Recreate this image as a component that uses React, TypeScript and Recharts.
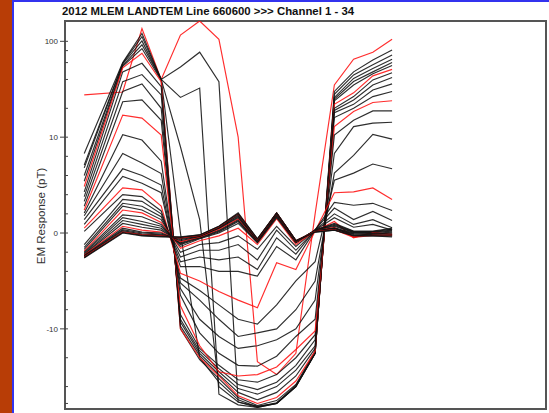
import React from 'react'
import { LineChart, Line, XAxis, YAxis, ReferenceArea } from 'recharts'

// station positions along the line (one gap between 0 and 2)
const stations = [0, 2, 3, 4, 5, 6, 7, 8, 9, 10, 11, 12, 13, 14, 15, 16]

// EM response (pT) for each channel, one value per station
const ch01 = [27.6, 29.6, 136, 40, 116, 163, 105, 10, -22, -30, -18, 2, 35, 65, 77, 105]
const ch02 = [8.3, 60, 121, 40, 54, 77, 38, -58, -64, -60, -40, -18, 30, 48, 64, 81]
const ch03 = [7.1, 59, 112, 40, 26, 32.5, -48, -62, -66, -60, -40, -18, 28, 44.6, 57, 72]
const ch04 = [6.8, 58, 101, 40, 9, 1.4, -40, -58, -66, -60, -40, -18, 26, 41, 52, 65]
const ch05 = [6.0, 56, 92, 40, 0, -20, -36, -55, -65, -59, -39, -18, 25, 38, 48, 60]
const ch06 = [5.4, 55, 84, 39, -10, -21, -33, -52, -63, -56, -38, -17, 24, 35, 46, 56]
const ch07 = [4.85, 53, 75, 38, -10, -20, -31, -50, -60, -52, -35, -17, 22, 29, 43.6, 51]
const ch08 = [4.3, 48, 59, 33.6, -9.7, -19, -30, -46, -55, -46, -31, -16, 20, 26.5, 39.6, 47]
const ch09 = [3.8, 38, 45, 27.6, -9.3, -18, -28, -42, -48, -40, -27, -15, 19, 24.4, 35, 42]
const ch10 = [3.3, 30, 36, 20, -9, -17, -26, -38, -43, -36, -24, -13, 18, 22, 31, 36]
const ch11 = [2.8, 23.4, 24.5, 15, -8.5, -16, -24, -34, -36, -30, -20, -11.5, 16, 20, 26.5, 30]
const ch12 = [2.4, 17, 15.8, 10.5, -7.6, -15, -28, -31, -30, -25, -16.4, -10.5, 12.9, 18.5, 23, 24]
const ch13 = [2.1, 10.6, 9.7, 7.5, -6.5, -11, -18, -24, -24.5, -19.3, -12, -9, 10.5, 15, 18.8, 18.8]
const ch14 = [1.8, 8.3, 7.3, 6.2, -5.8, -9, -12, -16, -15, -13, -10, -7, 8.3, 12.9, 14, 14.3]
const ch15 = [1.4, 6.7, 6.0, 5.0, -5.2, -7, -9, -12, -11, -10, -8, -5, 6.25, 8.1, 10.7, 9.8]
const ch16 = [0.9, 5.9, 5.2, 4.2, -4.7, -6, -7.5, -9, -9.5, -7.5, -5, -3, 5.5, 6.25, 7.2, 6.7]
const ch17 = [0.52, 4.7, 4.5, 2.8, -4.2, -5, -6.1, -7, -7.8, -3.1, -3.8, 0.2, 4.2, 4.3, 4.7, 3.5]
const ch18 = [0.17, 4.0, 3.8, 2.3, -3.5, -3.5, -4, -4, -4.5, -1.4, -2.8, 0.3, 3.2, 2.9, 3.1, 2.35]
const ch19 = [-1.2, 3.5, 3.3, 2.0, -3.0, -2.5, -2.8, -2.5, -3.8, -0.5, -2.2, 0.35, 2.6, 1.4, 2.25, 1.3]
const ch20 = [-1.5, 3.1, 2.8, 1.7, -2.5, -1.8, -1.8, -1.2, -2.8, 0.3, -1.8, 0.3, 2.0, 0.9, 1.4, 0.55]
const ch21 = [-1.7, 2.8, 2.4, 1.4, -2.0, -1.2, -1.0, -0.3, -1.7, 0.7, -1.4, 0.3, 1.6, 0.6, 0.9, 0.3]
const ch22 = [-1.9, 2.4, 2.1, 1.1, -1.6, -0.8, -0.3, 0.5, -1.2, 1.5, -1.2, 0.2, 1.2, -0.5, 0.1, -0.15]
const ch23 = [-2.0, 1.9, 1.7, 0.9, -1.4, -0.6, 0.0, 1.0, -1.0, 1.6, -1.0, 0.3, 1.0, 0.2, 0.2, 0.5]
const ch24 = [-2.1, 1.6, 1.2, 0.7, -1.2, -0.55, 0.1, 1.2, -1.0, 1.7, -1.0, 0.3, 0.9, 0.15, 0.15, 0.4]
const ch25 = [-2.2, 1.3, 0.9, 0.5, -1.1, -0.5, 0.2, 1.3, -0.9, 1.8, -0.95, 0.25, 0.8, 0.1, 0.1, 0.3]
const ch26 = [-2.25, 1.0, 0.6, 0.3, -1.0, -0.45, 0.3, 1.4, -0.9, 1.9, -0.9, 0.25, 0.7, 0.05, 0.05, 0.2]
const ch27 = [-2.3, 0.7, 0.3, 0.1, -0.9, -0.4, 0.4, 1.5, -0.8, 2.0, -0.9, 0.2, 0.6, -0.4, 0.0, -0.1]
const ch28 = [-2.35, 0.5, 0.1, 0.0, -0.8, -0.35, 0.5, 1.6, -0.8, 2.0, -0.85, 0.2, 0.55, 0.0, -0.05, 0.1]
const ch29 = [-2.4, 0.35, 0.0, -0.1, -0.7, -0.3, 0.5, 1.7, -0.75, 2.0, -0.85, 0.2, 0.5, -0.05, -0.1, 0.0]
const ch30 = [-2.45, 0.25, -0.1, -0.2, -0.6, -0.3, 0.6, 1.8, -0.7, 2.1, -0.8, 0.2, 0.45, -0.1, -0.15, -0.1]
const ch31 = [-2.5, 0.15, -0.15, -0.25, -0.55, -0.25, 0.6, 1.9, -0.7, 2.1, -0.8, 0.15, 0.4, -0.15, -0.2, -0.2]
const ch32 = [-2.5, 0.1, -0.2, -0.3, -0.5, -0.25, 0.65, 2.0, -0.65, 2.1, -0.8, 0.15, 0.35, -0.45, -0.25, -0.25]
const ch33 = [-2.55, 0.05, -0.25, -0.35, -0.45, -0.2, 0.7, 2.0, -0.6, 2.1, -0.8, 0.1, 0.3, -0.25, -0.3, -0.3]
const ch34 = [-2.6, 0.0, -0.3, -0.4, -0.4, -0.2, 0.7, 2.1, -0.6, 2.1, -0.8, 0.1, 0.3, -0.3, -0.3, -0.4]

const channels = [
  ch01, ch02, ch03, ch04, ch05, ch06, ch07, ch08, ch09, ch10, ch11, ch12,
  ch13, ch14, ch15, ch16, ch17, ch18, ch19, ch20, ch21, ch22, ch23, ch24,
  ch25, ch26, ch27, ch28, ch29, ch30, ch31, ch32, ch33, ch34,
]
const redChannels = [1, 7, 12, 17, 22, 27, 32]

// labelled ticks and the small ones between them (pT)
const majorTicks = [100, 10, 0, -10]
const minorTicks = [80, 60, 40, 20, 8, 6, 4, 2, -2, -4, -6, -8, -20, -40, -60]

// log beyond +-10, linear inside
const toSym = (v: number) =>
  Math.abs(v) <= 10 ? v / 10 : Math.sign(v) * (1 + Math.log10(Math.abs(v) / 10))

const data = stations.map((s, i) => {
  const row: Record<string, number> = { x: s }
  channels.forEach((ch, c) => {
    row['c' + (c + 1)] = toSym(ch[i])
  })
  return row
})

const yMin = -1.836
const yMax = 2.212
const tickPos = [...majorTicks, ...minorTicks].map(toSym)
const labelOf = new Map(majorTicks.map((t) => [toSym(t).toFixed(4), String(t)]))

const PLOT_LEFT = 65

const YTick = (props: any) => {
  const { y, payload } = props
  const label = labelOf.get(Number(payload.value).toFixed(4))
  if (label === undefined) {
    return <line x1={PLOT_LEFT} x2={PLOT_LEFT + 3} y1={y} y2={y} stroke="#444" strokeWidth={1} />
  }
  return (
    <g>
      <line x1={PLOT_LEFT - 5} x2={PLOT_LEFT + 3} y1={y} y2={y} stroke="#444" strokeWidth={1} />
      <text x={PLOT_LEFT - 7} y={y} dy={3} textAnchor="end" fontSize={8} fill="#333"
        fontFamily="'Liberation Sans', Arial, sans-serif">
        {label}
      </text>
    </g>
  )
}

export default function App() {
  return (
    <div style={{ position: 'absolute', left: 0, top: 0, width: 549, height: 413, background: '#fff', overflow: 'hidden' }}>
      {/* slide border on the left and top */}
      <div style={{ position: 'absolute', left: 0, top: 0, width: 12, height: 413, background: '#b83d06' }} />
      <div style={{ position: 'absolute', left: 12, top: 0, width: 1.5, height: 413, background: '#3333ee' }} />
      <div style={{ position: 'absolute', left: 12, top: 0, width: 537, height: 1.5, background: '#3333ee' }} />

      <div style={{
        position: 'absolute', left: 62, top: 5.5, fontSize: 11.4, lineHeight: '11px', fontWeight: 'bold',
        fontFamily: "'Liberation Sans', Arial, sans-serif", color: '#111', whiteSpace: 'nowrap',
      }}>
        2012 MLEM LANDTEM Line 660600 &gt;&gt;&gt; Channel 1 - 34
      </div>
      <div style={{
        position: 'absolute', left: 40.7, top: 216, transform: 'translate(-50%, -50%) rotate(-90deg)',
        fontSize: 11.5, fontFamily: "'Liberation Sans', Arial, sans-serif", color: '#333', whiteSpace: 'nowrap',
      }}>
        EM Response (pT)
      </div>

      <div style={{ position: 'absolute', left: 0, top: 0 }}>
        <LineChart width={549} height={413} data={data} margin={{ top: 21, right: 3, bottom: 4, left: 0 }}>
          <XAxis dataKey="x" type="number" domain={[-1, 24]} hide allowDataOverflow />
          <YAxis type="number" domain={[yMin, yMax]} ticks={tickPos} interval={0} width={PLOT_LEFT}
            axisLine={false} tickLine={false} tick={<YTick />} allowDataOverflow />
          {channels.map((_, c) => (
            <Line key={c} dataKey={'c' + (c + 1)} type="linear" dot={false} activeDot={false}
              stroke={redChannels.includes(c + 1) ? '#ff1010' : '#111'} strokeOpacity={0.88}
              strokeWidth={1.15} isAnimationActive={false} />
          ))}
          <ReferenceArea x1={-1} x2={24} y1={yMin} y2={yMax} fill="none" stroke="#555" strokeWidth={2} ifOverflow="extendDomain" />
        </LineChart>
      </div>
    </div>
  )
}
